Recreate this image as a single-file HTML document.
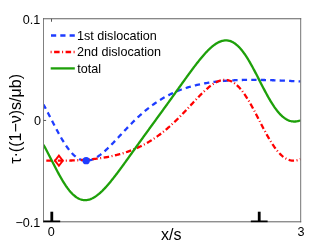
<!DOCTYPE html>
<html><head><meta charset="utf-8"><style>
html,body{margin:0;padding:0;background:#fff;}
body{width:332px;height:250px;overflow:hidden;position:relative;font-family:"Liberation Sans",sans-serif;}
svg{position:absolute;left:0;top:0;will-change:transform;}
text{font-family:"Liberation Sans",sans-serif;font-size:12.6px;fill:#000;}
</style></head><body>
<svg width="332" height="250" viewBox="0 0 332 250">
<rect width="332" height="250" fill="#fff"/>
<clipPath id="c"><rect x="43.5" y="18.75" width="257.2" height="203.05"/></clipPath>
<g clip-path="url(#c)" fill="none" stroke-linejoin="round">
<path d="M43.50,104.59 L44.14,105.75 L44.79,106.92 L45.43,108.10 L46.08,109.30 L46.72,110.50 L47.37,111.72 L48.01,112.95 L48.66,114.19 L49.30,115.43 L49.95,116.68 L50.59,117.93 L51.24,119.18 L51.88,120.44 L52.52,121.69 L53.17,122.95 L53.81,124.20 L54.46,125.44 L55.10,126.68 L55.75,127.92 L56.39,129.14 L57.04,130.36 L57.68,131.56 L58.33,132.76 L58.97,133.94 L59.62,135.10 L60.26,136.25 L60.90,137.38 L61.55,138.50 L62.19,139.59 L62.84,140.67 L63.48,141.72 L64.13,142.76 L64.77,143.76 L65.42,144.75 L66.06,145.71 L66.71,146.64 L67.35,147.55 L68.00,148.43 L68.64,149.29 L69.28,150.11 L69.93,150.91 L70.57,151.67 L71.22,152.41 L71.86,153.11 L72.51,153.79 L73.15,154.43 L73.80,155.05 L74.44,155.63 L75.09,156.18 L75.73,156.69 L76.38,157.18 L77.02,157.63 L77.66,158.05 L78.31,158.44 L78.95,158.80 L79.60,159.13 L80.24,159.42 L80.89,159.68 L81.53,159.91 L82.18,160.11 L82.82,160.28 L83.47,160.42 L84.11,160.52 L84.76,160.60 L85.40,160.65 L86.04,160.67 L86.69,160.66 L87.33,160.62 L87.98,160.56 L88.62,160.47 L89.27,160.35 L89.91,160.21 L90.56,160.04 L91.20,159.84 L91.85,159.62 L92.49,159.38 L93.14,159.12 L93.78,158.83 L94.42,158.52 L95.07,158.19 L95.71,157.84 L96.36,157.47 L97.00,157.08 L97.65,156.67 L98.29,156.25 L98.94,155.80 L99.58,155.34 L100.23,154.87 L100.87,154.38 L101.52,153.87 L102.16,153.35 L102.80,152.82 L103.45,152.27 L104.09,151.71 L104.74,151.14 L105.38,150.56 L106.03,149.97 L106.67,149.37 L107.32,148.76 L107.96,148.14 L108.61,147.51 L109.25,146.88 L109.89,146.24 L110.54,145.59 L111.18,144.93 L111.83,144.27 L112.47,143.61 L113.12,142.94 L113.76,142.26 L114.41,141.59 L115.05,140.91 L115.70,140.22 L116.34,139.54 L116.99,138.85 L117.63,138.16 L118.27,137.47 L118.92,136.77 L119.56,136.08 L120.21,135.39 L120.85,134.69 L121.50,134.00 L122.14,133.31 L122.79,132.62 L123.43,131.93 L124.08,131.24 L124.72,130.56 L125.37,129.87 L126.01,129.19 L126.65,128.51 L127.30,127.84 L127.94,127.16 L128.59,126.49 L129.23,125.83 L129.88,125.16 L130.52,124.51 L131.17,123.85 L131.81,123.20 L132.46,122.55 L133.10,121.91 L133.75,121.27 L134.39,120.64 L135.03,120.01 L135.68,119.39 L136.32,118.77 L136.97,118.16 L137.61,117.55 L138.26,116.95 L138.90,116.35 L139.55,115.76 L140.19,115.17 L140.84,114.59 L141.48,114.02 L142.13,113.45 L142.77,112.89 L143.41,112.33 L144.06,111.78 L144.70,111.23 L145.35,110.69 L145.99,110.16 L146.64,109.63 L147.28,109.11 L147.93,108.59 L148.57,108.08 L149.22,107.58 L149.86,107.08 L150.51,106.59 L151.15,106.10 L151.79,105.62 L152.44,105.15 L153.08,104.68 L153.73,104.22 L154.37,103.76 L155.02,103.31 L155.66,102.87 L156.31,102.43 L156.95,102.00 L157.60,101.57 L158.24,101.15 L158.89,100.73 L159.53,100.32 L160.17,99.92 L160.82,99.52 L161.46,99.13 L162.11,98.74 L162.75,98.36 L163.40,97.99 L164.04,97.62 L164.69,97.25 L165.33,96.89 L165.98,96.54 L166.62,96.19 L167.27,95.85 L167.91,95.51 L168.55,95.18 L169.20,94.85 L169.84,94.53 L170.49,94.21 L171.13,93.90 L171.78,93.59 L172.42,93.29 L173.07,92.99 L173.71,92.70 L174.36,92.41 L175.00,92.13 L175.65,91.85 L176.29,91.57 L176.93,91.30 L177.58,91.04 L178.22,90.78 L178.87,90.52 L179.51,90.27 L180.16,90.02 L180.80,89.78 L181.45,89.54 L182.09,89.31 L182.74,89.08 L183.38,88.85 L184.03,88.63 L184.67,88.41 L185.31,88.20 L185.96,87.99 L186.60,87.78 L187.25,87.58 L187.89,87.38 L188.54,87.18 L189.18,86.99 L189.83,86.80 L190.47,86.62 L191.12,86.43 L191.76,86.26 L192.41,86.08 L193.05,85.91 L193.69,85.74 L194.34,85.58 L194.98,85.42 L195.63,85.26 L196.27,85.11 L196.92,84.95 L197.56,84.81 L198.21,84.66 L198.85,84.52 L199.50,84.38 L200.14,84.24 L200.79,84.11 L201.43,83.98 L202.07,83.85 L202.72,83.72 L203.36,83.60 L204.01,83.48 L204.65,83.36 L205.30,83.25 L205.94,83.14 L206.59,83.03 L207.23,82.92 L207.88,82.81 L208.52,82.71 L209.17,82.61 L209.81,82.51 L210.45,82.42 L211.10,82.33 L211.74,82.24 L212.39,82.15 L213.03,82.06 L213.68,81.98 L214.32,81.90 L214.97,81.82 L215.61,81.74 L216.26,81.66 L216.90,81.59 L217.55,81.52 L218.19,81.45 L218.83,81.38 L219.48,81.31 L220.12,81.25 L220.77,81.19 L221.41,81.12 L222.06,81.07 L222.70,81.01 L223.35,80.95 L223.99,80.90 L224.64,80.85 L225.28,80.80 L225.93,80.75 L226.57,80.70 L227.21,80.66 L227.86,80.61 L228.50,80.57 L229.15,80.53 L229.79,80.49 L230.44,80.45 L231.08,80.41 L231.73,80.38 L232.37,80.35 L233.02,80.31 L233.66,80.28 L234.31,80.25 L234.95,80.22 L235.59,80.20 L236.24,80.17 L236.88,80.15 L237.53,80.12 L238.17,80.10 L238.82,80.08 L239.46,80.06 L240.11,80.04 L240.75,80.02 L241.40,80.01 L242.04,79.99 L242.68,79.98 L243.33,79.96 L243.97,79.95 L244.62,79.94 L245.26,79.93 L245.91,79.92 L246.55,79.91 L247.20,79.90 L247.84,79.90 L248.49,79.89 L249.13,79.89 L249.78,79.89 L250.42,79.88 L251.06,79.88 L251.71,79.88 L252.35,79.88 L253.00,79.88 L253.64,79.88 L254.29,79.88 L254.93,79.89 L255.58,79.89 L256.22,79.90 L256.87,79.90 L257.51,79.91 L258.16,79.91 L258.80,79.92 L259.44,79.93 L260.09,79.94 L260.73,79.95 L261.38,79.96 L262.02,79.97 L262.67,79.98 L263.31,79.99 L263.96,80.01 L264.60,80.02 L265.25,80.04 L265.89,80.05 L266.54,80.07 L267.18,80.08 L267.82,80.10 L268.47,80.11 L269.11,80.13 L269.76,80.15 L270.40,80.17 L271.05,80.19 L271.69,80.21 L272.34,80.23 L272.98,80.25 L273.63,80.27 L274.27,80.29 L274.92,80.31 L275.56,80.34 L276.20,80.36 L276.85,80.38 L277.49,80.41 L278.14,80.43 L278.78,80.46 L279.43,80.48 L280.07,80.51 L280.72,80.53 L281.36,80.56 L282.01,80.58 L282.65,80.61 L283.30,80.64 L283.94,80.67 L284.58,80.70 L285.23,80.72 L285.87,80.75 L286.52,80.78 L287.16,80.81 L287.81,80.84 L288.45,80.87 L289.10,80.90 L289.74,80.93 L290.39,80.96 L291.03,80.99 L291.68,81.03 L292.32,81.06 L292.96,81.09 L293.61,81.12 L294.25,81.16 L294.90,81.19 L295.54,81.22 L296.19,81.25 L296.83,81.29 L297.48,81.32 L298.12,81.36 L298.77,81.39 L299.41,81.43 L300.06,81.46 L300.70,81.50" stroke="#1e3cff" stroke-width="2.3" stroke-dasharray="5.3,4.17" stroke-dashoffset="0.6"/>
<path d="M43.50,160.46 L44.14,160.48 L44.79,160.49 L45.43,160.51 L46.08,160.52 L46.72,160.54 L47.37,160.55 L48.01,160.56 L48.66,160.57 L49.30,160.58 L49.95,160.60 L50.59,160.61 L51.24,160.61 L51.88,160.62 L52.52,160.63 L53.17,160.64 L53.81,160.65 L54.46,160.65 L55.10,160.66 L55.75,160.66 L56.39,160.66 L57.04,160.67 L57.68,160.67 L58.33,160.67 L58.97,160.67 L59.62,160.67 L60.26,160.67 L60.90,160.67 L61.55,160.66 L62.19,160.66 L62.84,160.65 L63.48,160.65 L64.13,160.64 L64.77,160.63 L65.42,160.63 L66.06,160.62 L66.71,160.61 L67.35,160.59 L68.00,160.58 L68.64,160.57 L69.28,160.55 L69.93,160.54 L70.57,160.52 L71.22,160.50 L71.86,160.48 L72.51,160.46 L73.15,160.44 L73.80,160.42 L74.44,160.39 L75.09,160.37 L75.73,160.34 L76.38,160.31 L77.02,160.28 L77.66,160.25 L78.31,160.22 L78.95,160.19 L79.60,160.15 L80.24,160.12 L80.89,160.08 L81.53,160.04 L82.18,160.00 L82.82,159.96 L83.47,159.92 L84.11,159.87 L84.76,159.83 L85.40,159.78 L86.04,159.73 L86.69,159.68 L87.33,159.62 L87.98,159.57 L88.62,159.51 L89.27,159.46 L89.91,159.40 L90.56,159.33 L91.20,159.27 L91.85,159.21 L92.49,159.14 L93.14,159.07 L93.78,159.00 L94.42,158.93 L95.07,158.85 L95.71,158.78 L96.36,158.70 L97.00,158.62 L97.65,158.53 L98.29,158.45 L98.94,158.36 L99.58,158.27 L100.23,158.18 L100.87,158.08 L101.52,157.99 L102.16,157.89 L102.80,157.79 L103.45,157.69 L104.09,157.58 L104.74,157.47 L105.38,157.36 L106.03,157.25 L106.67,157.13 L107.32,157.01 L107.96,156.89 L108.61,156.77 L109.25,156.64 L109.89,156.51 L110.54,156.38 L111.18,156.24 L111.83,156.10 L112.47,155.96 L113.12,155.82 L113.76,155.67 L114.41,155.52 L115.05,155.37 L115.70,155.21 L116.34,155.05 L116.99,154.89 L117.63,154.73 L118.27,154.56 L118.92,154.38 L119.56,154.21 L120.21,154.03 L120.85,153.85 L121.50,153.66 L122.14,153.47 L122.79,153.28 L123.43,153.08 L124.08,152.88 L124.72,152.67 L125.37,152.46 L126.01,152.25 L126.65,152.03 L127.30,151.81 L127.94,151.59 L128.59,151.36 L129.23,151.13 L129.88,150.89 L130.52,150.65 L131.17,150.41 L131.81,150.16 L132.46,149.90 L133.10,149.65 L133.75,149.38 L134.39,149.12 L135.03,148.84 L135.68,148.57 L136.32,148.29 L136.97,148.00 L137.61,147.71 L138.26,147.42 L138.90,147.12 L139.55,146.81 L140.19,146.50 L140.84,146.19 L141.48,145.87 L142.13,145.54 L142.77,145.21 L143.41,144.88 L144.06,144.54 L144.70,144.19 L145.35,143.84 L145.99,143.48 L146.64,143.12 L147.28,142.75 L147.93,142.38 L148.57,142.00 L149.22,141.62 L149.86,141.23 L150.51,140.84 L151.15,140.44 L151.79,140.03 L152.44,139.62 L153.08,139.20 L153.73,138.78 L154.37,138.35 L155.02,137.91 L155.66,137.47 L156.31,137.02 L156.95,136.57 L157.60,136.11 L158.24,135.65 L158.89,135.17 L159.53,134.70 L160.17,134.22 L160.82,133.73 L161.46,133.23 L162.11,132.73 L162.75,132.22 L163.40,131.71 L164.04,131.19 L164.69,130.67 L165.33,130.14 L165.98,129.60 L166.62,129.06 L167.27,128.51 L167.91,127.95 L168.55,127.39 L169.20,126.83 L169.84,126.25 L170.49,125.68 L171.13,125.09 L171.78,124.51 L172.42,123.91 L173.07,123.31 L173.71,122.71 L174.36,122.10 L175.00,121.48 L175.65,120.86 L176.29,120.23 L176.93,119.60 L177.58,118.97 L178.22,118.33 L178.87,117.68 L179.51,117.04 L180.16,116.38 L180.80,115.73 L181.45,115.07 L182.09,114.40 L182.74,113.73 L183.38,113.06 L184.03,112.39 L184.67,111.71 L185.31,111.03 L185.96,110.35 L186.60,109.66 L187.25,108.98 L187.89,108.29 L188.54,107.60 L189.18,106.91 L189.83,106.21 L190.47,105.52 L191.12,104.83 L191.76,104.13 L192.41,103.44 L193.05,102.75 L193.69,102.06 L194.34,101.37 L194.98,100.68 L195.63,100.00 L196.27,99.31 L196.92,98.63 L197.56,97.96 L198.21,97.29 L198.85,96.62 L199.50,95.96 L200.14,95.30 L200.79,94.65 L201.43,94.00 L202.07,93.36 L202.72,92.73 L203.36,92.11 L204.01,91.49 L204.65,90.89 L205.30,90.29 L205.94,89.70 L206.59,89.13 L207.23,88.56 L207.88,88.01 L208.52,87.47 L209.17,86.95 L209.81,86.43 L210.45,85.93 L211.10,85.45 L211.74,84.98 L212.39,84.53 L213.03,84.09 L213.68,83.68 L214.32,83.28 L214.97,82.90 L215.61,82.54 L216.26,82.20 L216.90,81.88 L217.55,81.58 L218.19,81.30 L218.83,81.05 L219.48,80.82 L220.12,80.61 L220.77,80.43 L221.41,80.27 L222.06,80.14 L222.70,80.03 L223.35,79.96 L223.99,79.90 L224.64,79.88 L225.28,79.89 L225.93,79.92 L226.57,79.98 L227.21,80.07 L227.86,80.20 L228.50,80.35 L229.15,80.53 L229.79,80.75 L230.44,80.99 L231.08,81.27 L231.73,81.58 L232.37,81.92 L233.02,82.29 L233.66,82.70 L234.31,83.13 L234.95,83.60 L235.59,84.10 L236.24,84.63 L236.88,85.20 L237.53,85.80 L238.17,86.42 L238.82,87.08 L239.46,87.77 L240.11,88.49 L240.75,89.25 L241.40,90.03 L242.04,90.84 L242.68,91.67 L243.33,92.54 L243.97,93.43 L244.62,94.36 L245.26,95.30 L245.91,96.27 L246.55,97.27 L247.20,98.29 L247.84,99.33 L248.49,100.40 L249.13,101.48 L249.78,102.59 L250.42,103.71 L251.06,104.85 L251.71,106.01 L252.35,107.18 L253.00,108.37 L253.64,109.57 L254.29,110.78 L254.93,112.00 L255.58,113.23 L256.22,114.47 L256.87,115.71 L257.51,116.96 L258.16,118.21 L258.80,119.47 L259.44,120.72 L260.09,121.98 L260.73,123.23 L261.38,124.48 L262.02,125.72 L262.67,126.96 L263.31,128.19 L263.96,129.42 L264.60,130.63 L265.25,131.83 L265.89,133.02 L266.54,134.20 L267.18,135.36 L267.82,136.51 L268.47,137.64 L269.11,138.75 L269.76,139.84 L270.40,140.91 L271.05,141.96 L271.69,142.98 L272.34,143.99 L272.98,144.97 L273.63,145.92 L274.27,146.85 L274.92,147.75 L275.56,148.63 L276.20,149.47 L276.85,150.29 L277.49,151.08 L278.14,151.84 L278.78,152.57 L279.43,153.27 L280.07,153.94 L280.72,154.57 L281.36,155.18 L282.01,155.75 L282.65,156.30 L283.30,156.81 L283.94,157.28 L284.58,157.73 L285.23,158.14 L285.87,158.53 L286.52,158.88 L287.16,159.19 L287.81,159.48 L288.45,159.74 L289.10,159.96 L289.74,160.15 L290.39,160.31 L291.03,160.44 L291.68,160.54 L292.32,160.62 L292.96,160.66 L293.61,160.67 L294.25,160.66 L294.90,160.61 L295.54,160.54 L296.19,160.44 L296.83,160.32 L297.48,160.17 L298.12,160.00 L298.77,159.80 L299.41,159.57 L300.06,159.32 L300.70,159.05" stroke="#ff0000" stroke-width="2.3" stroke-dasharray="1,2.5,5.5,2.5" stroke-dashoffset="0.7"/>
<path d="M43.50,144.78 L44.14,145.95 L44.79,147.13 L45.43,148.33 L46.08,149.54 L46.72,150.76 L47.37,152.00 L48.01,153.24 L48.66,154.48 L49.30,155.74 L49.95,157.00 L50.59,158.26 L51.24,159.52 L51.88,160.79 L52.52,162.05 L53.17,163.31 L53.81,164.57 L54.46,165.82 L55.10,167.06 L55.75,168.30 L56.39,169.53 L57.04,170.75 L57.68,171.96 L58.33,173.15 L58.97,174.33 L59.62,175.50 L60.26,176.65 L60.90,177.78 L61.55,178.89 L62.19,179.98 L62.84,181.05 L63.48,182.10 L64.13,183.12 L64.77,184.12 L65.42,185.10 L66.06,186.05 L66.71,186.97 L67.35,187.87 L68.00,188.74 L68.64,189.58 L69.28,190.39 L69.93,191.17 L70.57,191.92 L71.22,192.63 L71.86,193.32 L72.51,193.98 L73.15,194.60 L73.80,195.19 L74.44,195.75 L75.09,196.27 L75.73,196.76 L76.38,197.22 L77.02,197.64 L77.66,198.03 L78.31,198.39 L78.95,198.71 L79.60,199.00 L80.24,199.26 L80.89,199.49 L81.53,199.68 L82.18,199.84 L82.82,199.96 L83.47,200.06 L84.11,200.12 L84.76,200.15 L85.40,200.15 L86.04,200.12 L86.69,200.06 L87.33,199.97 L87.98,199.85 L88.62,199.71 L89.27,199.53 L89.91,199.33 L90.56,199.10 L91.20,198.84 L91.85,198.56 L92.49,198.25 L93.14,197.91 L93.78,197.56 L94.42,197.17 L95.07,196.77 L95.71,196.34 L96.36,195.89 L97.00,195.42 L97.65,194.93 L98.29,194.42 L98.94,193.89 L99.58,193.34 L100.23,192.77 L100.87,192.19 L101.52,191.58 L102.16,190.97 L102.80,190.33 L103.45,189.68 L104.09,189.02 L104.74,188.34 L105.38,187.65 L106.03,186.94 L106.67,186.23 L107.32,185.50 L107.96,184.76 L108.61,184.01 L109.25,183.24 L109.89,182.47 L110.54,181.69 L111.18,180.90 L111.83,180.10 L112.47,179.30 L113.12,178.48 L113.76,177.66 L114.41,176.83 L115.05,176.00 L115.70,175.16 L116.34,174.31 L116.99,173.46 L117.63,172.61 L118.27,171.75 L118.92,170.88 L119.56,170.01 L120.21,169.14 L120.85,168.26 L121.50,167.39 L122.14,166.50 L122.79,165.62 L123.43,164.73 L124.08,163.84 L124.72,162.95 L125.37,162.06 L126.01,161.17 L126.65,160.27 L127.30,159.38 L127.94,158.48 L128.59,157.58 L129.23,156.68 L129.88,155.78 L130.52,154.88 L131.17,153.98 L131.81,153.08 L132.46,152.18 L133.10,151.28 L133.75,150.38 L134.39,149.48 L135.03,148.58 L135.68,147.68 L136.32,146.78 L136.97,145.88 L137.61,144.99 L138.26,144.09 L138.90,143.19 L139.55,142.29 L140.19,141.40 L140.84,140.50 L141.48,139.61 L142.13,138.72 L142.77,137.82 L143.41,136.93 L144.06,136.04 L144.70,135.15 L145.35,134.26 L145.99,133.36 L146.64,132.48 L147.28,131.59 L147.93,130.70 L148.57,129.81 L149.22,128.92 L149.86,128.03 L150.51,127.15 L151.15,126.26 L151.79,125.37 L152.44,124.49 L153.08,123.60 L153.73,122.72 L154.37,121.83 L155.02,120.95 L155.66,120.06 L156.31,119.18 L156.95,118.29 L157.60,117.40 L158.24,116.52 L158.89,115.63 L159.53,114.75 L160.17,113.86 L160.82,112.97 L161.46,112.09 L162.11,111.20 L162.75,110.31 L163.40,109.42 L164.04,108.53 L164.69,107.64 L165.33,106.75 L165.98,105.86 L166.62,104.97 L167.27,104.08 L167.91,103.19 L168.55,102.30 L169.20,101.40 L169.84,100.51 L170.49,99.61 L171.13,98.72 L171.78,97.82 L172.42,96.92 L173.07,96.03 L173.71,95.13 L174.36,94.23 L175.00,93.33 L175.65,92.43 L176.29,91.53 L176.93,90.63 L177.58,89.73 L178.22,88.83 L178.87,87.93 L179.51,87.03 L180.16,86.13 L180.80,85.23 L181.45,84.33 L182.09,83.43 L182.74,82.54 L183.38,81.64 L184.03,80.74 L184.67,79.84 L185.31,78.95 L185.96,78.06 L186.60,77.17 L187.25,76.28 L187.89,75.39 L188.54,74.50 L189.18,73.62 L189.83,72.74 L190.47,71.86 L191.12,70.99 L191.76,70.12 L192.41,69.25 L193.05,68.39 L193.69,67.53 L194.34,66.67 L194.98,65.83 L195.63,64.98 L196.27,64.15 L196.92,63.31 L197.56,62.49 L198.21,61.67 L198.85,60.86 L199.50,60.06 L200.14,59.26 L200.79,58.48 L201.43,57.70 L202.07,56.94 L202.72,56.18 L203.36,55.43 L204.01,54.70 L204.65,53.98 L205.30,53.26 L205.94,52.57 L206.59,51.88 L207.23,51.21 L207.88,50.55 L208.52,49.91 L209.17,49.28 L209.81,48.67 L210.45,48.08 L211.10,47.50 L211.74,46.94 L212.39,46.40 L213.03,45.88 L213.68,45.38 L214.32,44.90 L214.97,44.44 L215.61,44.00 L216.26,43.58 L216.90,43.19 L217.55,42.82 L218.19,42.47 L218.83,42.15 L219.48,41.85 L220.12,41.58 L220.77,41.34 L221.41,41.12 L222.06,40.93 L222.70,40.77 L223.35,40.63 L223.99,40.53 L224.64,40.45 L225.28,40.41 L225.93,40.39 L226.57,40.41 L227.21,40.46 L227.86,40.53 L228.50,40.64 L229.15,40.79 L229.79,40.96 L230.44,41.17 L231.08,41.41 L231.73,41.68 L232.37,41.99 L233.02,42.33 L233.66,42.70 L234.31,43.11 L234.95,43.55 L235.59,44.02 L236.24,44.53 L236.88,45.07 L237.53,45.64 L238.17,46.25 L238.82,46.89 L239.46,47.56 L240.11,48.26 L240.75,48.99 L241.40,49.76 L242.04,50.55 L242.68,51.38 L243.33,52.23 L243.97,53.11 L244.62,54.02 L245.26,54.96 L245.91,55.92 L246.55,56.91 L247.20,57.92 L247.84,58.96 L248.49,60.02 L249.13,61.10 L249.78,62.20 L250.42,63.32 L251.06,64.46 L251.71,65.61 L252.35,66.79 L253.00,67.97 L253.64,69.17 L254.29,70.39 L254.93,71.61 L255.58,72.85 L256.22,74.09 L256.87,75.34 L257.51,76.59 L258.16,77.85 L258.80,79.11 L259.44,80.38 L260.09,81.64 L260.73,82.90 L261.38,84.16 L262.02,85.42 L262.67,86.67 L263.31,87.91 L263.96,89.15 L264.60,90.38 L265.25,91.59 L265.89,92.80 L266.54,93.99 L267.18,95.17 L267.82,96.33 L268.47,97.48 L269.11,98.61 L269.76,99.71 L270.40,100.80 L271.05,101.87 L271.69,102.92 L272.34,103.94 L272.98,104.94 L273.63,105.92 L274.27,106.87 L274.92,107.79 L275.56,108.69 L276.20,109.56 L276.85,110.40 L277.49,111.21 L278.14,112.00 L278.78,112.75 L279.43,113.48 L280.07,114.17 L280.72,114.83 L281.36,115.46 L282.01,116.06 L282.65,116.63 L283.30,117.17 L283.94,117.68 L284.58,118.15 L285.23,118.59 L285.87,119.00 L286.52,119.38 L287.16,119.73 L287.81,120.05 L288.45,120.33 L289.10,120.58 L289.74,120.81 L290.39,121.00 L291.03,121.16 L291.68,121.30 L292.32,121.40 L292.96,121.47 L293.61,121.52 L294.25,121.54 L294.90,121.52 L295.54,121.49 L296.19,121.42 L296.83,121.33 L297.48,121.22 L298.12,121.08 L298.77,120.91 L299.41,120.72 L300.06,120.51 L300.70,120.28" stroke="#1ea00a" stroke-width="2.3"/>
</g>
<!-- axes box -->
<g stroke-width="1" fill="none">
<line x1="43.5" y1="18.25" x2="43.5" y2="222.3" stroke="#808080"/>
<line x1="300.7" y1="18.25" x2="300.7" y2="222.3" stroke="#747474"/>
<line x1="43.0" y1="18.75" x2="301.2" y2="18.75" stroke="#606060"/>
<line x1="43.0" y1="221.8" x2="301.2" y2="221.8" stroke="#606060"/>
</g>
<!-- ticks -->
<g stroke="#555" stroke-width="1">
<line x1="51.5" y1="18.75" x2="51.5" y2="21.75"/>
<line x1="43.5" y1="120.45" x2="46.1" y2="120.45"/>
</g>
<!-- dislocation symbols -->
<g stroke="#000" fill="none">
<line x1="43.40" y1="221.35" x2="60.20" y2="221.35" stroke-width="1.7"/>
<line x1="51.80" y1="211.7" x2="51.80" y2="221.4" stroke-width="2.8"/>
<line x1="250.82" y1="221.35" x2="267.62" y2="221.35" stroke-width="1.7"/>
<line x1="259.22" y1="211.7" x2="259.22" y2="221.4" stroke-width="2.8"/>
</g>
<!-- markers -->
<path d="M55.02,160.68 l3.9,-5.1 l3.9,5.1 l-3.9,5.1 Z" fill="none" stroke="#ff0000" stroke-width="1.9"/>
<circle cx="86.16" cy="160.68" r="3.65" fill="#1e3cff"/>
<!-- legend -->
<g fill="none" stroke-width="2.3">
<line x1="51" y1="35.5" x2="75" y2="35.5" stroke="#1e3cff" stroke-dasharray="5.2,4.1"/>
<line x1="50.6" y1="52.0" x2="75" y2="52.0" stroke="#ff0000" stroke-dasharray="1,2.5,5.5,2.5"/>
<line x1="50.7" y1="68.4" x2="74.8" y2="68.4" stroke="#1ea00a"/>
</g>
<text x="77.0" y="40.2">1st dislocation</text>
<text x="77.0" y="56.4">2nd dislocation</text>
<text x="77.3" y="72.8">total</text>
<!-- tick labels -->
<text x="40.3" y="23.7" text-anchor="end">0.1</text>
<text x="40.9" y="124.8" text-anchor="end">0</text>
<text x="40.3" y="226.6" text-anchor="end">−0.1</text>
<text x="51.3" y="236.2" text-anchor="middle">0</text>
<text x="301.1" y="236.2" text-anchor="middle">3</text>
<text x="171.3" y="239.7" text-anchor="middle" style="font-size:16px">x/s</text>
<text transform="translate(21,118.9) rotate(-90)" text-anchor="middle" style="font-size:16px">τ·((1−ν)s/μb)</text>
</svg>
</body></html>
